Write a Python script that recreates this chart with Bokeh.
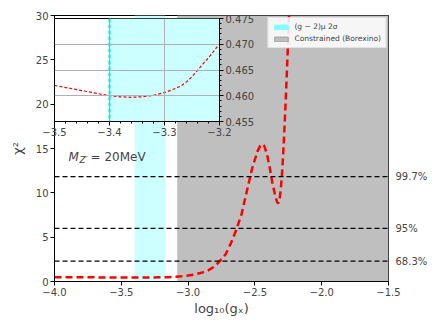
from bokeh.plotting import figure
from bokeh.models import (Range1d, FixedTicker, LinearAxis, Span, BoxAnnotation,
                          Label, Legend, LegendItem)
from bokeh.layouts import column
from bokeh.embed import file_html
from bokeh.resources import INLINE

# ---------------- data ----------------
log_g = [-4.0, -3.8, -3.6, -3.5, -3.45, -3.4, -3.36, -3.33, -3.3, -3.27, -3.25, -3.23,
         -3.2, -3.15, -3.1, -3.05, -3.0, -2.95, -2.9, -2.85, -2.8, -2.76, -2.72, -2.68,
         -2.64, -2.6, -2.56, -2.52, -2.48, -2.46, -2.445, -2.43, -2.41, -2.39, -2.37,
         -2.35, -2.335, -2.325, -2.315, -2.305, -2.295, -2.285, -2.275, -2.265, -2.255,
         -2.245, -2.235]
chi2 = [0.470, 0.467, 0.464, 0.462, 0.461, 0.460, 0.4597, 0.4598, 0.4606, 0.462, 0.464,
        0.4665, 0.470, 0.49, 0.53, 0.59, 0.67, 0.80, 0.98, 1.25, 1.7, 2.35, 3.05, 4.3,
        5.8, 7.6, 10.2, 12.8, 14.7, 15.3, 15.5, 15.3, 14.4, 12.9, 11.2, 9.8, 9.0, 8.8,
        9.3, 10.6, 12.6, 15.3, 18.5, 22.0, 25.8, 29.8, 34.0]

inset_log_g = [-3.5, -3.475, -3.45, -3.425, -3.4, -3.38, -3.36, -3.34, -3.32, -3.3,
               -3.285, -3.27, -3.26, -3.25, -3.24, -3.23, -3.22, -3.21, -3.2]
inset_chi2 = [0.4620, 0.4615, 0.4610, 0.4605, 0.4600, 0.4598, 0.4597, 0.4598, 0.4601,
              0.4606, 0.4612, 0.4619, 0.4627, 0.4637, 0.4649, 0.4662, 0.4674, 0.4687, 0.4701]

cl_levels = [2.30, 5.99, 11.83]
cl_labels = ["68.3%", "95%", "99.7%"]

gm2_band = [-3.40, -3.17]
borexino_band = [-3.08, -1.5]

x_ticks = [-4.0, -3.5, -3.0, -2.5, -2.0, -1.5]
y_ticks = [0, 5, 10, 15, 20, 25, 30]
inset_x_ticks = [-3.5, -3.4, -3.3, -3.2]
inset_y_ticks = [0.455, 0.460, 0.465, 0.470, 0.475]

mass_value = "20MeV"
legend_labels = ["(g − 2)μ 2σ", "Constrained (Borexino)"]

FONT = "DejaVu Sans"
CYAN_BAND = "#ccffff"
CYAN_LEG = "#80ffff"
GRAY = "#bfbfbf"
NAN = float("nan")


def minus(s):
    return s.replace("-", "\u2212")


# ---------------- main figure ----------------
MAIN_H = 322
p = figure(width=430, height=MAIN_H, x_range=Range1d(-4.0, -1.5), y_range=Range1d(0, 30),
           output_backend="svg", toolbar_location=None,
           min_border_left=50, min_border_right=41, min_border_top=15, min_border_bottom=41)
p.grid.visible = False
p.outline_line_color = "black"
p.outline_line_width = 1
p.background_fill_color = "white"

for ax in (p.xaxis[0], p.yaxis[0]):
    ax.major_label_text_font = FONT
    ax.major_label_text_font_size = "10px"
    ax.axis_label_text_font = FONT
    ax.axis_label_text_font_size = "13px"
    ax.axis_label_text_font_style = "normal"
    ax.minor_tick_line_color = None
    ax.major_tick_in = 0
    ax.major_tick_out = 4
    ax.axis_line_color = "black"
    ax.major_label_standoff = 2

p.xaxis.ticker = FixedTicker(ticks=x_ticks)
p.xaxis.major_label_overrides = {t: minus(f"{t:.1f}") for t in x_ticks}
p.xaxis.axis_label = "log₁₀(gₓ)"
p.xaxis.axis_label_standoff = 2
p.yaxis.ticker = FixedTicker(ticks=y_ticks)
p.yaxis.major_label_overrides = {t: str(t) for t in y_ticks}
p.yaxis.axis_label = "χ²"
p.yaxis.axis_label_standoff = 8

# right-hand confidence-level labels
cl_axis = LinearAxis(ticker=FixedTicker(ticks=cl_levels),
                     major_label_overrides={lv: lb for lv, lb in zip(cl_levels, cl_labels)},
                     axis_line_color=None, major_tick_line_color=None,
                     minor_tick_line_color=None, major_tick_in=0, major_tick_out=0,
                     major_label_standoff=7, major_label_text_font=FONT,
                     major_label_text_font_size="10px")
p.add_layout(cl_axis, "right")

# bands
p.add_layout(BoxAnnotation(left=gm2_band[0], right=gm2_band[1], fill_color=CYAN_BAND,
                           fill_alpha=1, line_color=None, level="underlay"))
p.add_layout(BoxAnnotation(left=borexino_band[0], right=borexino_band[1], fill_color=GRAY,
                           fill_alpha=1, line_color="#a8a8a8", line_width=1, level="underlay"))

# confidence lines
for lv in cl_levels:
    p.add_layout(Span(location=lv, dimension="width", line_color="black",
                      line_dash="5 3", line_width=1.4))

# chi2 curve
p.line(log_g, chi2, line_color="red", line_width=2.5, line_dash="7 4")

# legend (placeholder renderers, nothing drawn on the plot)
r_cyan = p.quad(left=[NAN], right=[NAN], top=[NAN], bottom=[NAN],
                fill_color=CYAN_LEG, line_color=CYAN_LEG)
r_gray = p.quad(left=[NAN], right=[NAN], top=[NAN], bottom=[NAN],
                fill_color=GRAY, line_color="#a0a0a0")
legend = Legend(items=[LegendItem(label=legend_labels[0], renderers=[r_cyan], index=0),
                       LegendItem(label=legend_labels[1], renderers=[r_gray], index=0)],
                location="top_right", margin=2, padding=4, spacing=3,
                glyph_width=17, glyph_height=6, label_text_font=FONT,
                label_text_font_size="7.5px", label_height=8, label_standoff=5,
                border_line_color="#cccccc", background_fill_alpha=0.85)
p.add_layout(legend, "center")

# mass label  M_{Z'} = 20MeV
p.add_layout(Label(x=-3.895, y=14.0, text="M", text_font=FONT, text_font_size="12px",
                   text_font_style="italic", text_baseline="alphabetic"))
p.add_layout(Label(x=-3.895, y=14.0, x_offset=11, y_offset=-3, text="Z′", text_font=FONT,
                   text_font_size="9px", text_font_style="italic",
                   text_baseline="alphabetic"))
p.add_layout(Label(x=-3.895, y=14.0, x_offset=22, text="= " + mass_value, text_font=FONT,
                   text_font_size="12px", text_baseline="alphabetic"))

# ---------------- inset ----------------
inset = figure(width=261, height=128, x_range=Range1d(-3.5, -3.2),
               y_range=Range1d(0.455, 0.475), output_backend="svg", toolbar_location=None,
               x_axis_location="below", y_axis_location="right",
               min_border_left=54, min_border_right=42, min_border_top=5,
               min_border_bottom=20)
inset.border_fill_alpha = 0
inset.background_fill_color = "white"
inset.outline_line_color = "black"
inset.outline_line_width = 1
inset.margin = (13 - MAIN_H, 0, 0, 0)

for ax in (inset.xaxis[0], inset.yaxis[0]):
    ax.major_label_text_font = FONT
    ax.major_label_text_font_size = "10px"
    ax.major_tick_in = 0
    ax.major_tick_out = 4
    ax.minor_tick_in = 0
    ax.minor_tick_out = 2
    ax.axis_line_color = "black"
    ax.major_label_standoff = 2

inset.xaxis.ticker = FixedTicker(ticks=inset_x_ticks,
                                 minor_ticks=[round(-3.5 + 0.02 * i, 3) for i in range(16)])
inset.xaxis.major_label_overrides = {t: minus(f"{t:.1f}") for t in inset_x_ticks}
inset.yaxis.ticker = FixedTicker(ticks=inset_y_ticks,
                                 minor_ticks=[round(0.455 + 0.001 * i, 4) for i in range(21)])
inset.yaxis.major_label_overrides = {t: f"{t:.3f}" for t in inset_y_ticks}

inset.xgrid.ticker = FixedTicker(ticks=inset_x_ticks)
inset.ygrid.ticker = FixedTicker(ticks=inset_y_ticks)
inset.grid.grid_line_color = "#b0b0b0"
inset.grid.grid_line_width = 1
inset.grid.level = "glyph"

inset.add_layout(BoxAnnotation(left=gm2_band[0], right=gm2_band[1], fill_color=CYAN_BAND,
                               fill_alpha=1, line_color=None, level="underlay"))
inset.add_layout(Span(location=gm2_band[0], dimension="height", line_color="#00e5ee",
                      line_dash="4 2", line_width=2))
inset.line(inset_log_g, inset_chi2, line_color="red", line_width=1.2, line_dash="3 2")

layout = column(p, inset, spacing=0)

open("out.html", "w").write(file_html(layout, INLINE))
